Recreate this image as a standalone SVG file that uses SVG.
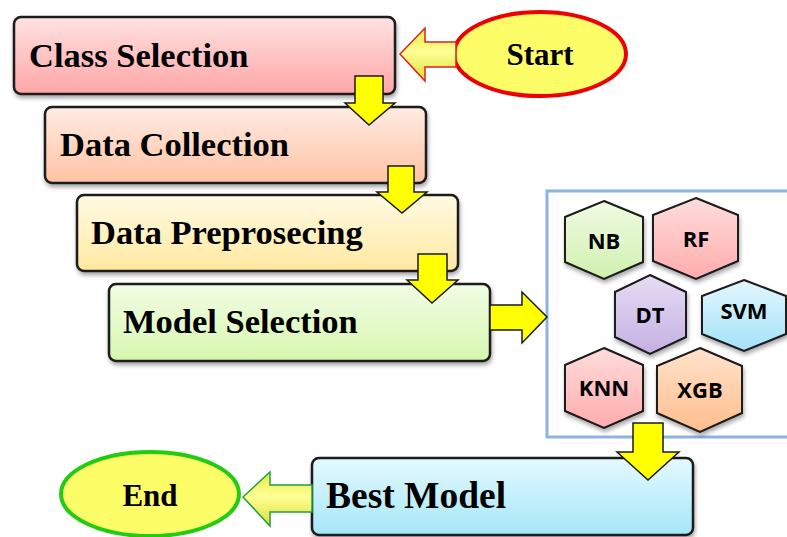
<svg xmlns="http://www.w3.org/2000/svg" width="787" height="537" viewBox="0 0 787 537">
<defs>
<style>
.box{stroke:#1a1a1a;stroke-width:2.5;filter:url(#sh)}
.bt{font-family:"Liberation Serif",serif;font-weight:bold;font-size:34.5px;fill:#000}
.hex{stroke:#1a1a1a;stroke-width:2;filter:url(#sh)}
.ht{font-family:"Open Sans","Liberation Sans",sans-serif;font-weight:bold;font-size:22px;fill:#000;text-anchor:middle}
.ya{fill:#ffff00;stroke:#1a1a1a;stroke-width:1.5}
.et{font-family:"Liberation Serif",serif;font-weight:bold;font-size:31px;fill:#000;text-anchor:middle}
</style>
<filter id="sh" x="-10%" y="-10%" width="125%" height="135%"><feGaussianBlur in="SourceAlpha" stdDeviation="2"/><feOffset dx="1" dy="3"/><feComponentTransfer><feFuncA type="linear" slope="0.35"/></feComponentTransfer><feMerge><feMergeNode/><feMergeNode in="SourceGraphic"/></feMerge></filter>
<linearGradient id="g1" x1="0" y1="0" x2="0" y2="1"><stop offset="0" stop-color="#ffe2e2"/><stop offset="1" stop-color="#ffa6a6"/></linearGradient>
<linearGradient id="g2" x1="0" y1="0" x2="0" y2="1"><stop offset="0" stop-color="#ffece4"/><stop offset="1" stop-color="#ffc2a2"/></linearGradient>
<linearGradient id="g3" x1="0" y1="0" x2="0" y2="1"><stop offset="0" stop-color="#fffbe4"/><stop offset="1" stop-color="#ffe8a0"/></linearGradient>
<linearGradient id="g4" x1="0" y1="0" x2="0" y2="1"><stop offset="0" stop-color="#f2fde6"/><stop offset="1" stop-color="#d6f7ae"/></linearGradient>
<linearGradient id="g5" x1="0" y1="0" x2="0" y2="1"><stop offset="0" stop-color="#e4f9ff"/><stop offset="1" stop-color="#a6e6f8"/></linearGradient>
<linearGradient id="hg" x1="0" y1="0" x2="0" y2="1"><stop offset="0" stop-color="#f0fbe4"/><stop offset="1" stop-color="#d0f0ae"/></linearGradient>
<linearGradient id="hp" x1="0" y1="0" x2="0" y2="1"><stop offset="0" stop-color="#ffdcdc"/><stop offset="1" stop-color="#ffacac"/></linearGradient>
<linearGradient id="hv" x1="0" y1="0" x2="0" y2="1"><stop offset="0" stop-color="#e6dcf4"/><stop offset="1" stop-color="#c4b0e2"/></linearGradient>
<linearGradient id="hc" x1="0" y1="0" x2="0" y2="1"><stop offset="0" stop-color="#e2f6fe"/><stop offset="1" stop-color="#a4e2f8"/></linearGradient>
<linearGradient id="ho" x1="0" y1="0" x2="0" y2="1"><stop offset="0" stop-color="#ffe2cc"/><stop offset="1" stop-color="#ffbe8c"/></linearGradient>
<linearGradient id="la" x1="0" y1="0" x2="0" y2="1"><stop offset="0" stop-color="#e8e840"/><stop offset="0.45" stop-color="#ffff96"/><stop offset="1" stop-color="#dcdc38"/></linearGradient>
</defs>

<g id="classSelection"><rect class="box" x="14" y="17" width="381" height="77" rx="7" fill="url(#g1)"/><text class="bt" x="29" y="67">Class Selection</text></g>
<g id="dataCollection"><rect class="box" x="45" y="107" width="381" height="76" rx="7" fill="url(#g2)"/><text class="bt" x="60" y="156">Data Collection</text></g>
<g id="dataPreprosecing"><rect class="box" x="77" y="195" width="381" height="76" rx="7" fill="url(#g3)"/><text class="bt" x="91" y="244">Data Preprosecing</text></g>
<g id="modelSelection"><rect class="box" x="109" y="284" width="381" height="77" rx="7" fill="url(#g4)"/><text class="bt" x="123" y="333">Model Selection</text></g>
<g id="bestModel"><rect class="box" x="312" y="458" width="381" height="77" rx="7" fill="url(#g5)"/><text class="bt" x="326" y="508" style="font-size:37.5px">Best Model</text></g>

<g id="models">
<rect x="547" y="191" width="245" height="246" fill="none" stroke="#8db3e2" stroke-width="3"/>
<g id="NB"><polygon class="hex" points="604,201 643,217 643,262 604,279 565,262 565,217" fill="url(#hg)"/><text class="ht" x="604" y="249">NB</text></g>
<g id="RF"><polygon class="hex" points="696,198 738,215 738,261 696,279 653,261 653,215" fill="url(#hp)"/><text class="ht" x="696" y="247">RF</text></g>
<g id="DT"><polygon class="hex" points="650,275 686,292 686,337 650,354 615,337 615,292" fill="url(#hv)"/><text class="ht" x="650" y="323">DT</text></g>
<g id="SVM"><polygon class="hex" points="744,280 786,296 786,334 744,351 702,334 702,296" fill="url(#hc)"/><text class="ht" x="744" y="319">SVM</text></g>
<g id="KNN"><polygon class="hex" points="604,348 643,365 643,411 604,428 565,411 565,365" fill="url(#hp)"/><text class="ht" x="604" y="396">KNN</text></g>
<g id="XGB"><polygon class="hex" points="700,348 742,366 742,413 700,432 657,413 657,366" fill="url(#ho)"/><text class="ht" x="700" y="398">XGB</text></g>
</g>

<g id="start"><ellipse cx="540" cy="54" rx="86" ry="42" fill="#fdfd68" stroke="#ee0000" stroke-width="4"/><text class="et" x="540" y="65">Start</text></g>
<g id="end"><ellipse cx="150" cy="494" rx="89" ry="42" fill="#fdfd68" stroke="#22cc11" stroke-width="4"/><text class="et" x="150" y="506">End</text></g>

<g id="connectors">
<polygon points="355,76 383,76 383,103 395,103 369,125 345,103 355,103" class="ya"/>
<polygon points="388,166 414,166 414,192 427,192 402,213 377,192 388,192" class="ya"/>
<polygon points="418,254 447,254 447,280 458,280 432,303 407,280 418,280" class="ya"/>
<polygon points="490,305 522,305 522,292 547,317 522,343 522,330 490,330" class="ya"/>
<polygon points="633,423 663,423 663,452 679,452 648,480 617,452 633,452" class="ya"/>
<polygon points="456,42 425,42 425,28 400,54 425,81 425,67 456,67" fill="url(#la)" stroke="#e02020" stroke-width="1.5"/>
<polygon points="312,485 270,485 270,472 243,497 270,526 270,512 312,512" fill="url(#la)" stroke="#1fa040" stroke-width="1.5"/>
</g>
</svg>
